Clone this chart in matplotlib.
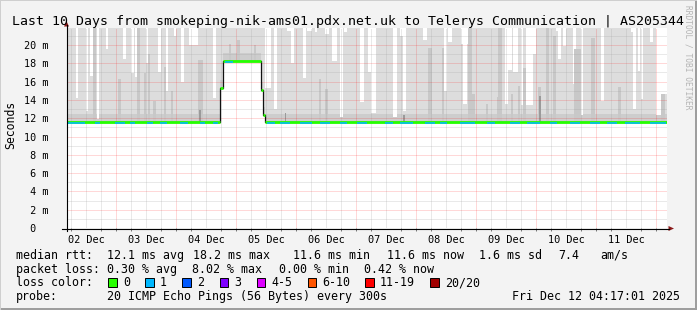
import numpy as np
import matplotlib.pyplot as plt
from matplotlib.patches import Rectangle, Polygon
from matplotlib.lines import Line2D

W, H = 697, 310
plt.rcParams['font.family'] = ['DejaVu Sans Mono', 'DejaVu Sans']

# x in hours since 02 Dec 00:00 (graph ends Fri Dec 12 04:17:01)
t_start, t_end = 4.28, 244.28
y_top = 21.86

day_labels = ['02 Dec', '03 Dec', '04 Dec', '05 Dec', '06 Dec',
              '07 Dec', '08 Dec', '09 Dec', '10 Dec', '11 Dec']
y_ticks = [0, 2, 4, 6, 8, 10, 12, 14, 16, 18, 20]
y_labels = [' 0', ' 2 m', ' 4 m', ' 6 m', ' 8 m', '10 m', '12 m', '14 m', '16 m', '18 m', '20 m']

# median rtt (ms), step changes
median_t = [4.28, 65.6, 66.6, 81.9, 82.7, 83.6, 244.28]
median_v = [11.6, 15.3, 18.2, 15.1, 12.3, 11.6, 11.6]

# white gaps in the smoke: start h, end h, top of smoke (ms)
gap_start = [7.7, 11.7, 13.6, 16.4, 19.7, 26.7, 30.0, 31.5, 35.7, 40.8, 44.0, 46.9, 50.0,
             53.1, 62.7, 83.6, 86.9, 92.3, 93.9, 98.7, 100.3, 103.3, 107.6, 110.3, 113.6,
             114.9, 121.6, 124.8, 125.9, 134.8, 137.5, 138.5, 146.8, 155.2, 156.8, 161.9,
             162.8, 179.5, 180.8, 182.8, 186.0, 188.0, 190.7, 200.0, 200.7, 202.7, 206.7,
             210.0, 218.0, 230.0, 230.7, 232.7, 234.0, 237.3, 240.0, 242.0]
gap_end = [8.8, 12.8, 14.7, 17.1, 20.8, 28.0, 30.9, 32.3, 36.8, 41.9, 44.8, 48.0, 50.9,
           56.7, 64.0, 86.0, 88.3, 93.9, 94.9, 99.7, 102.3, 104.3, 108.9, 112.3, 114.7,
           116.3, 122.9, 125.9, 127.7, 136.1, 138.5, 139.7, 148.1, 156.1, 158.1, 164.8,
           164.1, 180.8, 182.4, 184.8, 186.7, 190.7, 192.0, 201.1, 202.0, 203.7, 208.0,
           210.7, 218.9, 231.3, 231.7, 233.6, 234.7, 238.7, 242.0, 244.28]
gap_top = [14.2, 12.8, 16.6, 11.9, 19.6, 18.5, 16.9, 16.5, 18.0, 17.0, 15.0, 21.0, 16.0,
           20.0, 14.2, 15.3, 13.0, 21.5, 18.0, 16.4, 21.5, 21.4, 21.2, 18.3, 12.1,
           21.4, 13.8, 17.0, 12.6, 12.1, 21.0, 12.8, 20.5, 15.0, 20.3, 20.1,
           13.6, 13.6, 17.3, 17.0, 13.4, 13.4, 19.0, 21.5, 18.5, 19.9, 15.7,
           12.3, 13.9, 21.4, 13.0, 17.2, 14.1, 20.3, 12.4, 14.7]

# darker smoke columns: start h, end h, top (ms)
spike_start = [14.7, 24.7, 32.3, 34.9, 36.7, 38.7, 43.2, 46.0, 56.7, 68.9, 72.3, 78.9,
               104.9, 107.6, 148.8, 154.1, 164.8, 166.1, 171.7, 176.1, 176.8, 181.9,
               184.7, 186.7, 192.7, 196.0, 198.7, 207.1, 208.4, 214.0, 224.7, 242.0]
spike_end = [16.0, 26.0, 33.6, 35.7, 37.6, 39.7, 44.0, 46.7, 58.7, 69.9, 73.6, 80.0,
             105.9, 108.8, 150.1, 155.2, 166.1, 167.5, 172.8, 177.1, 178.1, 182.8,
             185.6, 188.0, 194.0, 196.9, 200.0, 208.4, 210.0, 215.6, 226.0, 243.3]
spike_top = [21.9, 16.3, 21.9, 16.9, 19.0, 13.9, 17.6, 15.0, 18.4, 20.1, 20.5, 20.0,
             16.3, 15.2, 19.7, 19.7, 21.9, 14.7, 13.6, 14.3, 21.9, 14.7,
             15.5, 17.5, 15.4, 21.9, 21.0, 19.6, 19.6, 20.8, 15.4, 14.7]

dark_start = [57.2, 91.3, 193.0, 138.8]
dark_end = [57.9, 92.0, 193.7, 139.4]
dark_top = [12.9, 12.6, 14.4, 12.4]

# median segments with 1/20 packet loss
blue_start = [4.4, 15.6, 23.6, 29.6, 36.4, 41.6, 49.6, 57.6, 62.8, 67.6, 84.4, 89.6, 97.6,
              105.6, 113.6, 120.4, 131.6, 137.6, 147.6, 153.6, 161.6, 172.4, 181.6, 188.4,
              197.6, 205.6, 213.6, 220.4, 227.6, 237.6]
blue_end = [11.6, 17.6, 27.6, 31.6, 38.8, 44.4, 52.8, 59.6, 64.8, 70.8, 87.6, 93.6, 102.4,
            109.6, 116.4, 124.4, 134.8, 142.8, 151.6, 156.4, 167.6, 175.6, 185.6, 193.6,
            200.4, 209.6, 217.6, 224.4, 233.6, 244.0]

rtt_stats = ['12.1 ms avg', '18.2 ms max', '11.6 ms min', '11.6 ms now', '1.6 ms sd', '7.4', 'am/s']
loss_stats = ['0.30 % avg', '8.02 % max', '0.00 % min', '0.42 % now']
loss_names = ['0', '1', '2', '3', '4-5', '6-10', '11-19', '20/20']
loss_colors = ['#26ff00', '#00b8ff', '#0059ff', '#7e00ff', '#dd00ff', '#ff5500', '#ff0000', '#a10000']


def med_at(t):
    i = np.searchsorted(median_t, t, side='right') - 1
    return median_v[min(i, len(median_v) - 1)]


def fx(x):
    return x / W


def fy(y):
    return 1 - y / H


fig = plt.figure(figsize=(W / 100, H / 100), dpi=100, facecolor='#f3f3f3')
ax = fig.add_axes([fx(67), fy(228), 600 / W, 200 / H])
ax.set_facecolor('white')
ax.set_xlim(t_start, t_end)
ax.set_ylim(0, y_top)
for s in ax.spines.values():
    s.set_visible(False)

# smoke
ax.fill_between(median_t, median_v, y_top, step='post', color='#dddddd', lw=0, zorder=1,
                antialiased=False)
band = [v + 0.9 for v in median_v]
ax.fill_between(median_t, median_v, band, step='post', color='#cdcdcd', lw=0, zorder=1.5,
                antialiased=False)
gs, ge, gt = np.array(gap_start), np.array(gap_end), np.array(gap_top)
ax.bar(gs, y_top - gt, bottom=gt, width=ge - gs, align='edge', color='white', lw=0, zorder=2,
       antialiased=False)
ss, se, st = np.array(spike_start), np.array(spike_end), np.array(spike_top)
sb = np.array([med_at(t) for t in ss])
ax.bar(ss, st - sb, bottom=sb, width=se - ss, align='edge', color='#c8c8c8', lw=0, zorder=3,
       antialiased=False)
ds, de, dt = np.array(dark_start), np.array(dark_end), np.array(dark_top)
db = np.array([med_at(t) for t in ds])
ax.bar(ds, dt - db, bottom=db, width=de - ds, align='edge', color='#9a9a9a', lw=0, zorder=3.2,
       antialiased=False)

# grid (dotted, 1px)
red_grid = dict(color='#ff0000', alpha=0.3, lw=0.72, ls=(0, (1, 1)), zorder=4)
grey_grid = dict(color='#a0a0a0', alpha=0.45, lw=0.72, ls=(0, (1, 1)), zorder=4)
for h in range(6, 244, 6):
    ax.axvline(h, **(red_grid if h % 24 == 0 else grey_grid))
for v in range(1, 22):
    ax.axhline(v, **(red_grid if v % 2 == 0 else grey_grid))

# median line
ax.step(median_t, median_v, where='post', color='#111111', lw=0.9, zorder=5)
for i in range(len(median_t) - 1):
    ax.hlines(median_v[i], median_t[i], median_t[i + 1], color=loss_colors[0], lw=2.0,
              zorder=6, capstyle='butt')
for a, b in zip(blue_start, blue_end):
    ax.hlines(med_at(a) - 0.09, a, b, color=loss_colors[1], lw=1.15, zorder=7, capstyle='butt')

# ticks
ax.set_xticks([12 + 24 * i for i in range(10)])
ax.set_xticklabels(day_labels, fontsize=7.4)
ax.set_xticks(list(range(6, 244, 6)), minor=True)
ax.tick_params(axis='x', which='major', length=0, pad=5)
ax.tick_params(axis='x', which='minor', length=2, width=0.7, color='#777777', direction='out')
ax.set_yticks(y_ticks)
ax.set_yticklabels(y_labels, fontsize=7.3)
ax.tick_params(axis='y', length=0, pad=31)
for lab in ax.get_yticklabels():
    lab.set_ha('left')

# axes lines with arrows
fig.add_artist(Line2D([fx(66.5), fx(66.5)], [fy(231), fy(25)], color='black', lw=0.8))
fig.add_artist(Line2D([fx(62), fx(669)], [fy(228.5), fy(228.5)], color='black', lw=0.8))
fig.add_artist(Polygon([[fx(64), fy(26.5)], [fx(69), fy(26.5)], [fx(66.5), fy(21)]],
                       closed=True, color='#8b1a1a', lw=0))
fig.add_artist(Polygon([[fx(668.5), fy(226)], [fx(668.5), fy(231)], [fx(674), fy(228.5)]],
                       closed=True, color='#8b1a1a', lw=0))

# frame
fig.add_artist(Rectangle((0, 0), 1, fy(308), transform=fig.transFigure, color='#9e9e9e', lw=0))
fig.add_artist(Rectangle((fx(695), 0), fx(2), 1, transform=fig.transFigure, color='#9e9e9e', lw=0))
fig.add_artist(Rectangle((0, fy(1)), 1, 1 / H, transform=fig.transFigure, color='#cfcfcf', lw=0))
fig.add_artist(Rectangle((0, 0), fx(1), 1, transform=fig.transFigure, color='#cfcfcf', lw=0))

# texts
fig.text(fx(347.5), fy(25), 'Last 10 Days from smokeping-nik-ams01.pdx.net.uk to Telerys Communication | AS205344',
         ha='center', va='baseline', fontsize=9.55)
fig.text(fx(11), fy(125), 'Seconds', rotation=90, ha='center', va='center', fontsize=8.3)
fig.text(fx(688), fy(5), 'RRDTOOL / TOBI OETIKER', rotation=270, ha='center', va='top',
         fontsize=5.7, color='#b4b4b4')

fs = 8.4
rows = [258.7, 272.6, 286.5, 300.4]
fig.text(fx(16), fy(rows[0]), 'median rtt:', fontsize=fs, va='baseline')
for x, s in zip([107, 193.5, 293, 387, 479, 558, 600], rtt_stats):
    fig.text(fx(x), fy(rows[0]), s, fontsize=fs, va='baseline')
fig.text(fx(16), fy(rows[1]), 'packet loss:', fontsize=fs, va='baseline')
for x, s in zip([107, 192, 279, 364], loss_stats):
    fig.text(fx(x), fy(rows[1]), s, fontsize=fs, va='baseline')
fig.text(fx(16), fy(rows[2]), 'loss color:', fontsize=fs, va='baseline')
box_x = [108, 145, 182, 219.5, 256.5, 307.5, 365, 430]
for bx, name, c in zip(box_x, loss_names, loss_colors):
    fig.add_artist(Rectangle((fx(bx), fy(286.5)), 8.5 / W, 9 / H, transform=fig.transFigure,
                             facecolor=c, edgecolor='black', lw=0.7))
    fig.text(fx(bx + 15), fy(rows[2]), name, fontsize=fs, va='baseline')
fig.text(fx(16), fy(rows[3]), 'probe:', fontsize=fs, va='baseline')
fig.text(fx(107), fy(rows[3]), '20 ICMP Echo Pings (56 Bytes) every 300s', fontsize=fs, va='baseline')
fig.text(fx(680.5), fy(rows[3]), 'Fri Dec 12 04:17:01 2025', fontsize=fs, va='baseline', ha='right')

fig.savefig('out.png', dpi=100, facecolor=fig.get_facecolor())
